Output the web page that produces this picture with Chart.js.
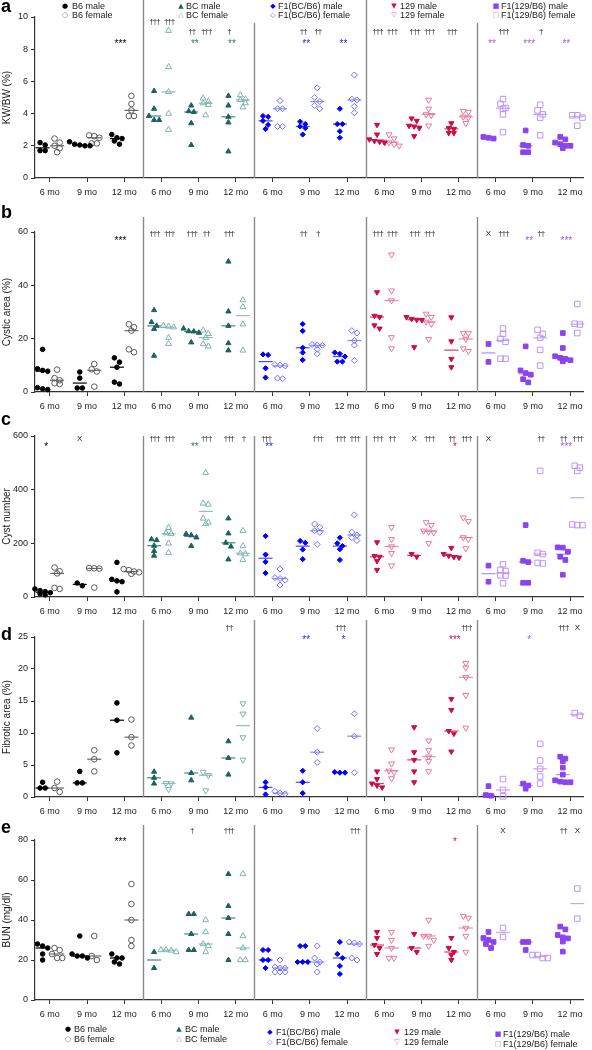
<!DOCTYPE html>
<html><head><meta charset="utf-8">
<script src="https://cdn.jsdelivr.net/npm/chart.js@4.4.1/dist/chart.umd.min.js"></script>
<style>
html,body{margin:0;padding:0;background:#fff;}
#wrap{position:relative;width:592px;height:1050px;overflow:hidden;font-family:"Liberation Sans",Arial,sans-serif;}
canvas{position:absolute;left:0;}
.lab{position:absolute;font-weight:bold;font-size:18px;line-height:18px;color:#000;z-index:5;}
.leg{position:absolute;font-size:9px;line-height:9px;color:#222;white-space:nowrap;z-index:5;}
.mk{position:absolute;font-family:"DejaVu Sans",sans-serif;font-size:7px;line-height:9px;transform:translateX(-50%);z-index:5;}
</style></head><body><div id="wrap"></div>
<script>
// ---------------- DATA ----------------
const strains = ['B6','BC','F1(BC/B6)','129','F1(129/B6)'];
const timepoints = ['6 mo','9 mo','12 mo'];
const panelLetters = ['a','b','c','d','e'];
const yTitles = ['KW/BW (%)','Cystic area (%)','Cyst number','Fibrotic area (%)','BUN (mg/dl)'];

const yTicksKW = [0,2,4,6,8,10];
const yTicksCystic = [0,20,40,60];
const yTicksCyst = [0,200,400,600];
const yTicksFib = [0,5,10,15,20,25];
const yTicksBUN = [0,20,40,60,80];

// values per strain -> [6 mo, 9 mo, 12 mo]
const kwbwMale = [
 [[2.2,2.05,1.7,1.7],[2.25,2.1,2.05,2.0,2.0],[2.7,2.5,2.45,2.3,2.1]],
 [[5.4,4.3,3.85,3.6,3.6],[4.5,4.15,4.1,3.4,2.05],[5.1,4.5,3.8,3.45,1.65]],
 [[3.85,3.8,3.55,3.3,3.05],[3.5,3.35,3.2,3.1,2.7],[4.3,3.35,3.35,2.9,2.5]],
 [[3.3,2.7,2.4,2.3,2.25,2.2],[3.7,3.55,3.25,3.2,3.1,2.6],[3.4,3.1,3.05,2.8,2.8]],
 [[2.55,2.5,2.45],[2.95,2.05,2.0,1.6,1.6],[2.55,2.4,2.2,2.1,2.0,2.0,1.85]]
];
const kwbwFemale = [
 [[2.45,2.2,2.0,1.85,1.6],[2.65,2.6,2.5,2.15,2.15],[5.1,4.6,4.2,3.85,3.85]],
 [[9.15,6.9,5.35,4.0,3.0],[4.95,4.75,4.65,4.55,3.9],[5.15,4.9,4.85,4.65,4.4]],
 [[4.8,4.3,4.3,3.2,3.2],[5.6,5.0,4.75,4.5,4.3],[6.4,4.9,4.85,4.45,4.05]],
 [[2.7,2.45,2.25,2.2,2.1,2.0],[4.85,4.3,3.95,3.9,3.25],[4.15,4.1,3.8,3.75,3.4]],
 [[4.9,4.6,4.35,4.3,3.95,2.85],[4.55,4.2,3.95,3.75,2.65],[3.9,3.9,3.75,3.25]]
];
const cysticMale = [
 [[16.0,8.7,8.1,7.8,1.6,1.2,0.9],[7.5,5.2,1.5,1.5],[12.8,11.2,9.3,3.7,3.0]],
 [[30.7,26.2,24.8,23.6,13.6],[23.8,22.8,22.7,22.2,18.6],[48.9,30.2,24.8,18.3,15.6]],
 [[14.1,13.9,8.9,5.4],[25.5,22.9,16.6,14.8,12.0],[14.8,14.3,13.3,11.4,11.4]],
 [[37.4,28.6,28.1,25.0,23.8],[28.1,27.4,27.1,27.0,16.8],[28.0,19.0,12.4,9.3]],
 [[18.0,11.3],[17.1,8.1,7.1,6.5,4.8,3.6],[22.1,16.5,13.4,12.8,12.4,11.9,11.5]]
];
const cysticFemale = [
 [[8.4,5.2,4.4,3.3,3.0],[10.5,8.5,7.7,2.0],[25.4,24.3,23.0,16.0,14.9]],
 [[24.8,24.6,24.3,20.4,18.1],[23.1,21.8,20.4,18.0,17.1],[34.5,31.9,25.4,15.6]],
 [[10.3,10.1,9.8,5.2,5.0],[17.8,17.6,17.5,16.0,14.3],[23.0,22.1,19.3,17.6,11.8]],
 [[51.5,38.0,34.3,20.5,16.3],[29.3,28.1,26.3,25.5,19.8],[22.1,22.0,19.9,16.3,15.3]],
 [[23.8,21.8,19.9,18.8,12.5,12.5],[23.3,21.8,20.3,15.8,9.9],[33.0,25.6,25.3,22.1]]
];
const cystMale = [
 [[30,24,20,16,12,8],[52,42],[129,66,60,57,19]],
 [[215,212,191,171,154],[235,230,222,190],[293,237,202,188,140]],
 [[227,158,131,89],[209,202,177,141],[221,200,190,178,138]],
 [[204,153,150,134,101],[160,150],[183,160,154,149,147]],
 [[117,57],[268,135,130,53,53],[185,184,169,150,138,83]]
];
const cystFemale = [
 [[110,96,88,34,30],[108,107,106,35],[104,100,95,92,86]],
 [[258,238,236,200,165],[463,349,345,293,278,272],[247,190,163,160,138]],
 [[104,72,69,63,45],[272,260,247,241,196],[306,242,231,221,210]],
 [[260,215,188,163,117],[278,268,247,243,240,200],[296,282,222,215,181]],
 [[122,101,97,81,80,51],[470,165,160,127,125],[489,482,470,270,268,268]]
];
const fibMale = [
 [[2.3,1.4,1.4],[4.0,2.2,2.2],[14.7,12.0,6.9]],
 [[3.95,3.0,2.1],[12.4,3.75,2.6],[8.7,6.1,3.5]],
 [[2.3,1.5,0.4],[4.1,2.3,0.6],[3.9,3.8,3.8]],
 [[4.0,2.8,2.1,1.8,1.5],[10.9,7.0,5.8,4.0,2.3],[15.3,13.6,10.3,9.9,7.1]],
 [[1.7,0.3,0.2],[2.1,1.8,1.3],[6.3,6.0,5.6,4.6,3.5,2.6,2.4,2.3,2.3]]
];
const fibFemale = [
 [[2.4,1.4,0.8],[7.3,5.9,4.0],[12.1,9.35,8.05]],
 [[2.15,2.1,1.2],[3.9,3.4,1.0],[14.6,13.0,9.3,5.8]],
 [[0.9,0.6,0.5],[10.7,7.0,5.4],[13.0,9.5,3.8]],
 [[7.4,5.2,4.1,3.85,2.9],[8.8,7.3,6.3,5.6,4.0],[20.9,20.2,18.7,15.9,10.8]],
 [[2.8,1.1,0.1],[8.3,5.7,4.4,3.2,2.1],[13.1,12.7]]
];
const bunMale = [
 [[28,27,26,23,20],[32,23,22,22,21],[23,21,21,19,18]],
 [[24,16],[43,43,33,25,25],[63,47,41,33,20]],
 [[25,25,20,20,16],[27,27,19,19,19],[29,23,21,17,13]],
 [[34,31,27.5,26,23],[33,26,24],[31,26,24,22.5,20]],
 [[34,31,30,29,28,26],[29,29,25],[36.7,35.3,32.5,31.3,30.8,29.2,24.2]]
];
const bunFemale = [
 [[26,25,23,21,21],[32,22,20],[58,48,40,30,27]],
 [[25,25,24.8,24],[40,34,28,27,24],[63,32,26,20,20]],
 [[20,16.5,16,16,14,14,14],[27,21,19,18,14],[29,28.5,28,21,20]],
 [[34,30,26,21,21],[40,32,32,30,27],[42,41,36,32,24]],
 [[36,31.5],[22.5,22.5,21,21],[55.7,40.7]]
];

// significance marks: [strain, timepoint, side (m/f/c), text]
const annKW = [
 [0,2,'c','***'],
 [1,0,'m','†††'],[1,0,'f','†††'],[1,1,'m','††'],[1,1,'f','†††'],[1,1,'c','**'],[1,2,'m','†'],[1,2,'c','**'],
 [2,1,'m','††'],[2,1,'f','††'],[2,1,'c','**'],[2,2,'c','**'],
 [3,0,'m','†††'],[3,0,'f','†††'],[3,1,'m','†††'],[3,1,'f','†††'],[3,2,'m','†††'],
 [4,0,'c','**'],[4,0,'f','†††'],[4,1,'c','***'],[4,1,'f','†'],[4,2,'c','**']
];
const annCystic = [
 [0,2,'c','***'],
 [1,0,'m','†††'],[1,0,'f','†††'],[1,1,'m','†††'],[1,1,'f','††'],[1,2,'m','†††'],
 [2,1,'m','††'],[2,1,'f','†'],
 [3,0,'m','†††'],[3,0,'f','†††'],[3,1,'m','†††'],[3,1,'f','†††'],
 [4,0,'m','X'],[4,0,'f','†††'],[4,1,'c','**'],[4,1,'f','††'],[4,2,'c','***']
];
const annCyst = [
 [0,0,'c','*'],[0,1,'m','X'],
 [1,0,'m','†††'],[1,0,'f','†††'],[1,1,'c','**'],[1,1,'f','†††'],[1,2,'m','†††'],[1,2,'f','†'],
 [2,0,'m','†††'],[2,0,'c','**'],[2,1,'f','†††'],[2,2,'m','†††'],[2,2,'f','†††'],
 [3,0,'m','†††'],[3,0,'f','††'],[3,1,'m','X'],[3,1,'f','†††'],[3,2,'m','††'],[3,2,'f','†††'],[3,2,'c','*'],
 [4,0,'m','X'],[4,1,'f','††'],[4,2,'m','††'],[4,2,'f','†††'],[4,2,'c','***']
];
const annFib = [
 [1,2,'m','††'],
 [2,1,'c','**'],[2,2,'m','†††'],[2,2,'c','*'],
 [3,2,'f','†††'],[3,2,'c','***'],
 [4,1,'c','*'],[4,2,'m','†††'],[4,2,'f','X']
];
const annBUN = [
 [0,2,'c','***'],
 [1,1,'m','†'],[1,2,'m','†††'],
 [2,2,'f','†††'],
 [3,2,'c','*'],
 [4,0,'f','X'],[4,2,'m','††'],[4,2,'f','X']
];

// ---------------- LAYOUT / STYLE ----------------
const measures = [
 {male:kwbwMale, female:kwbwFemale, yTicks:yTicksKW, ann:annKW},
 {male:cysticMale, female:cysticFemale, yTicks:yTicksCystic, ann:annCystic},
 {male:cystMale, female:cystFemale, yTicks:yTicksCyst, ann:annCyst},
 {male:fibMale, female:fibFemale, yTicks:yTicksFib, ann:annFib},
 {male:bunMale, female:bunFemale, yTicks:yTicksBUN, ann:annBUN}
];
const rowLayout = [
 {top:0,   h:205, padTop:17, axisH:27, sepTops:[0,23,0,23],     starY:8.5,  dagY:9.05, letterTop:-3},
 {top:205, h:210, padTop:27, axisH:23, sepTops:[12,12,12,12],   starY:57.5, dagY:59.5, letterTop:203},
 {top:415, h:205, padTop:21, axisH:23, sepTops:[21,21,21,21],   starY:570,  dagY:591,  letterTop:410},
 {top:620, h:205, padTop:17, axisH:28, sepTops:[0,0,0,0],       starY:25,   dagY:26.5, letterTop:625, femaleRot:{1:180}},
 {top:825, h:225, padTop:15, axisH:50, sepTops:[0,0,0,0],       starY:80.5, dagY:84.7, letterTop:818}
];
const styles = [
 {shape:'circle',   rot:0,   mc:'#000000', fc:'#5a5a5a', mmed:'#000000', fmed:'#6a6a6a', mr:2.3, fr:2.8},
 {shape:'triangle', rot:0,   mc:'#1f625c', fc:'#7db3ad', mmed:'#3f8a82', fmed:'#8fc0ba', mr:3.0, fr:3.4},
 {shape:'rectRot',  rot:0,   mc:'#0000ff', fc:'#7070ff', mmed:'#4a4aff', fmed:'#8a8aff', mr:2.6, fr:3.0},
 {shape:'triangle', rot:180, mc:'#cc0e45', fc:'#e6789a', mmed:'#d8406c', fmed:'#ea8aa8', mr:3.0, fr:3.4},
 {shape:'rect',     rot:0,   mc:'#8b43ee', fc:'#b996f7', mmed:'#b48cf5', fmed:'#c4a6f8', mr:3.3, fr:3.9}
];
const starColors = ['#000000','#2e7a72','#2424ff','#d01348','#9a5cf5'];
const legendMarks = [['●','○'],['▲','△'],['◆','◇'],['▼','▽'],['■','□']];
const legendLayout = [
 {lines:[6,15],    marker:[65,181,273,394,496], text:[72,186,278,400,501], dy:[0,0,0,0,0]},
 {lines:[1029,1039],marker:[68,179,270,397,498], text:[74,185,276,404,503], dy:[0,0,3,3,5]}
];
const X_MIN = 0.1, X_MAX = 14.87, SEX_OFF = 0.195, DX = 0.138;
function groupX(p,t){ return p*3 + t + 0.5; }
function median(a){ const s=a.slice().sort((x,y)=>x-y); const n=s.length; return n%2 ? s[(n-1)/2] : (s[n/2-1]+s[n/2])/2; }
function swarm(vals, cx, ppu){
  const s = vals.slice().sort((a,b)=>b-a); const out=[]; let i=0;
  while(i<s.length){ let j=i; while(j+1<s.length && (s[i]-s[j+1])*ppu < 4.3) j++;
    const n=j-i+1; for(let k=0;k<n;k++) out.push({x: cx + (k-(n-1)/2)*DX, y: s[i+k]}); i=j+1; }
  return out;
}

Chart.defaults.font.family = '"Liberation Sans", Arial, Helvetica, sans-serif';
Chart.defaults.color = '#222';
const wrap = document.getElementById('wrap');
const tickVals = []; for(let p=0;p<5;p++) for(let t=0;t<3;t++) tickVals.push(groupX(p,t));

measures.forEach((m, r) => {
  const L = rowLayout[r];
  const cv = document.createElement('canvas');
  cv.width = 592; cv.height = L.h; cv.style.top = L.top + 'px';
  wrap.appendChild(cv);
  const yMax = m.yTicks[m.yTicks.length-1];
  const ppu = (L.h - L.padTop - L.axisH) / yMax;
  const datasets = [];
  strains.forEach((s, p) => {
    const st = styles[p];
    [m.male[p], m.female[p]].forEach((groups, k) => {
      const pts = [], meds = [];
      groups.forEach((vals, t) => {
        const cx = groupX(p,t) + (k ? SEX_OFF : -SEX_OFF);
        pts.push(...swarm(vals, cx, ppu));
        meds.push({x: cx, y: median(vals)});
      });
      const col = k ? st.fc : st.mc;
      const rot = (k && L.femaleRot && L.femaleRot[p] != null) ? L.femaleRot[p] : st.rot;
      datasets.push({label: s + (k?' female':' male') + ' median', data: meds, pointStyle:'line', pointRadius:7,
        borderColor: k ? st.fmed : st.mmed, backgroundColor: k ? st.fmed : st.mmed, borderWidth:1.2, order:2, clip:false});
      datasets.push({label: s + (k?' female':' male'), data: pts, pointStyle: st.shape, rotation: rot,
        pointRadius: k ? st.fr : st.mr, backgroundColor: k ? 'rgba(255,255,255,0)' : col,
        borderColor: col, borderWidth: 1, order:1, clip:false});
    });
  });
  const deco = {
    id:'deco',
    beforeDatasetsDraw(chart){
      const ctx = chart.ctx, xs = chart.scales.x;
      ctx.save(); ctx.strokeStyle = '#8a8a8a'; ctx.lineWidth = 1.4;
      [3,6,9,12].forEach((v,i) => { const x = Math.round(xs.getPixelForValue(v)) + 0.5;
        ctx.beginPath(); ctx.moveTo(x, L.sepTops[i]); ctx.lineTo(x, chart.chartArea.bottom); ctx.stroke(); });
      ctx.restore();
    },
    afterDatasetsDraw(chart){
      const ctx = chart.ctx, xs = chart.scales.x, ys = chart.scales.y;
      ctx.save(); ctx.textAlign = 'center';
      m.ann.forEach(([p,t,side,txt]) => {
        const isStar = txt.indexOf('*') >= 0;
        const xv = groupX(p,t) + (side==='m' ? -SEX_OFF : side==='f' ? SEX_OFF : -0.1);
        let yv;
        if (isStar) yv = L.starY;
        else { const gmax = Math.max(...m.male[p][t], ...m.female[p][t]); yv = Math.max(L.dagY, gmax + 9/ppu); }
        const px = xs.getPixelForValue(xv), py = ys.getPixelForValue(yv);
        if (isStar) {
          ctx.letterSpacing = '0px';
          ctx.fillStyle = starColors[p]; ctx.font = '10px "Liberation Sans", Arial'; ctx.textBaseline = 'alphabetic'; ctx.fillText(txt, px, py + 5.5);
        } else {
          ctx.letterSpacing = txt === 'X' ? '0px' : '-1px';
          ctx.fillStyle = '#1a1a1a'; ctx.font = '8px "Liberation Sans", Arial'; ctx.textBaseline = 'middle';
          ctx.fillText(txt, px + (txt === 'X' ? 0 : 0.5), py);
        }
      });
      ctx.restore();
    }
  };
  new Chart(cv, {
    type:'scatter',
    data:{datasets},
    options:{
      responsive:false, animation:false, events:[],
      layout:{padding:{top:L.padTop, right:2, left:0, bottom:0}},
      plugins:{legend:{display:false}, tooltip:{enabled:false}},
      scales:{
        x:{type:'linear', min:X_MIN, max:X_MAX,
          afterBuildTicks: sc => { sc.ticks = tickVals.map(v => ({value:v})); },
          afterFit: sc => { sc.height = L.axisH; },
          ticks:{callback:(v,i) => timepoints[i % 3], font:{size:9}, color:'#222', padding:5, maxRotation:0, autoSkip:false},
          grid:{drawOnChartArea:false, drawTicks:true, tickLength:4, color:'#333'},
          border:{color:'#333', width:1.2}},
        y:{type:'linear', min:0, max:yMax,
          afterBuildTicks: sc => { sc.ticks = m.yTicks.map(v => ({value:v})); },
          afterFit: sc => { sc.width = 35; },
          ticks:{font:{size:9}, color:'#222', padding:3},
          grid:{drawOnChartArea:false, drawTicks:true, tickLength:4, color:'#333'},
          border:{color:'#333', width:1.2},
          title:{display:true, text:yTitles[r], font:{size:10}, color:'#222', padding:{top:1,bottom:0}}}
      }
    },
    plugins:[deco]
  });
  const lt = document.createElement('div');
  lt.className = 'lab'; lt.textContent = panelLetters[r];
  lt.style.left = '1px'; lt.style.top = L.letterTop + 'px';
  wrap.appendChild(lt);
});

// legends (top of row a, bottom of row e)
legendLayout.forEach(LL => {
  strains.forEach((s, p) => {
    ['male','female'].forEach((sex, k) => {
      const cy = LL.lines[k] + LL.dy[p];
      const mk = document.createElement('span');
      mk.className = 'mk'; mk.textContent = legendMarks[p][k];
      mk.style.color = k ? styles[p].fc : styles[p].mc;
      mk.style.left = LL.marker[p] + 'px'; mk.style.top = (cy - 4.4) + 'px';
      wrap.appendChild(mk);
      const tx = document.createElement('span');
      tx.className = 'leg'; tx.textContent = s + ' ' + sex;
      tx.style.left = LL.text[p] + 'px'; tx.style.top = (cy - 4.4) + 'px';
      wrap.appendChild(tx);
    });
  });
});
</script></body></html>
